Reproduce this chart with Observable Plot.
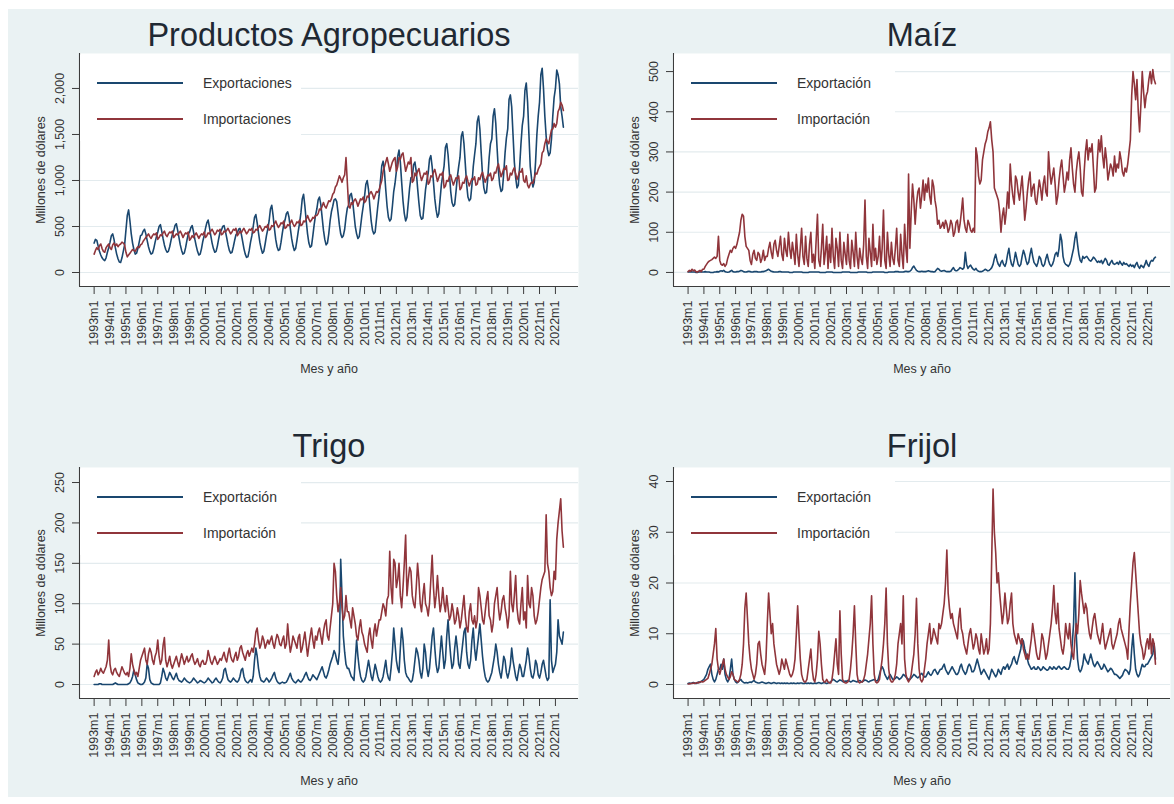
<!DOCTYPE html>
<html><head><meta charset="utf-8">
<script src="https://cdn.jsdelivr.net/npm/d3@7"></script>
<script src="https://cdn.jsdelivr.net/npm/@observablehq/plot@0.6"></script>
<style>
body{margin:0;background:#fff;}
#root{position:relative;width:1174px;height:804px;background:#fff;overflow:hidden;font-family:"Liberation Sans",Arial,sans-serif;}
#bg{position:absolute;left:8px;top:9px;width:1166px;height:788px;background:#eaf2f3;}
.panel{position:absolute;}
.legbox{position:absolute;background:#fff;}
.legline{position:absolute;height:1.6px;}
.legtext{position:absolute;font-size:14px;color:#333;line-height:16px;}
</style></head>
<body><div id="root"><div id="bg"></div></div>
<script>
// ---------------- data (millones de dólares), mensual 1993m1 - 2022m7 ----------------
const tickYears = [1993,1994,1995,1996,1997,1998,1999,2000,2001,2002,2003,2004,2005,2006,2007,2008,2009,2010,2011,2012,2013,2014,2015,2016,2017,2018,2019,2020,2021,2022];

const agroExp = [
320,360,350,290,230,190,160,140,130,160,220,270,
330,400,420,360,270,200,150,115,110,160,230,300,
460,620,680,560,420,320,250,200,210,260,330,400,
410,450,470,420,350,280,230,200,210,260,330,390,
440,500,520,450,370,300,250,220,230,280,350,410,
450,510,530,460,380,300,240,200,210,270,350,420,
440,490,510,440,360,290,230,190,200,260,340,400,
480,540,570,490,400,320,260,220,230,290,370,440,
460,500,510,450,380,300,240,210,220,280,350,410,
430,470,480,420,340,260,200,165,170,240,330,400,
500,600,630,540,430,330,260,210,230,310,400,470,
560,690,730,620,480,360,280,240,250,330,430,520,
570,640,660,600,480,370,290,240,260,350,450,540,
650,800,850,720,560,420,320,275,290,400,520,620,
690,790,820,740,600,460,360,300,320,420,560,660,
720,790,800,770,650,520,420,380,400,470,600,700,
730,840,860,780,640,500,420,370,390,500,620,720,
830,960,1000,900,720,560,460,420,440,580,720,840,
1000,1160,1210,1100,900,720,600,560,580,720,880,970,
1100,1260,1330,1200,980,780,640,560,600,760,920,1030,
1040,1170,1200,1100,920,760,620,580,590,740,900,1000,
1080,1230,1270,1150,980,800,680,600,640,800,960,1060,
1160,1360,1400,1280,1080,880,760,720,740,880,1040,1150,
1250,1480,1530,1400,1180,960,820,780,800,950,1150,1280,
1400,1640,1700,1560,1300,1060,920,860,870,1030,1250,1400,
1450,1700,1780,1620,1350,1100,950,880,900,1080,1300,1460,
1560,1880,1930,1800,1500,1200,1030,920,950,1150,1400,1600,
1700,1980,2060,1850,1500,1150,1020,930,980,1200,1500,1700,
1850,2150,2220,2000,1700,1480,1340,1270,1300,1450,1700,1900,
2000,2200,2150,2050,1800,1700,1580];

const agroImp = [
200,240,270,250,290,310,260,230,220,270,290,310,
270,250,300,320,290,310,280,300,310,330,320,300,
220,170,190,210,230,250,240,230,260,280,270,300,
310,340,360,380,400,420,390,370,400,420,410,430,
360,380,410,400,430,450,410,390,420,440,430,450,
380,400,420,410,430,450,420,380,410,430,420,440,
350,370,400,380,410,430,400,370,400,420,410,440,
380,400,430,420,450,470,440,410,430,460,450,470,
410,420,450,440,460,480,450,420,440,470,460,480,
400,420,450,430,460,480,450,420,440,470,460,480,
430,440,470,460,490,510,480,450,470,500,490,520,
460,470,510,500,530,560,520,490,510,540,530,560,
480,490,520,510,540,570,530,500,520,550,540,570,
510,520,560,550,580,620,580,550,570,600,590,620,
620,640,690,680,720,760,720,700,740,780,770,800,
850,870,930,950,1000,1050,1020,980,1030,1060,1250,980,
720,700,760,740,780,800,770,720,760,800,790,820,
760,780,830,820,860,880,850,800,840,880,870,900,
950,1000,1100,1150,1200,1250,1180,1100,1150,1200,1230,1250,
1100,1150,1250,1230,1280,1300,1200,1100,1150,1200,1180,1250,
980,1000,1080,1050,1100,1130,1060,1000,1040,1080,1070,1100,
960,980,1050,1040,1090,1120,1060,990,1030,1070,1060,1090,
920,940,1000,990,1040,1060,1000,950,990,1030,1020,1050,
900,920,980,970,1020,1050,990,940,980,1020,1010,1040,
950,960,1030,1010,1060,1090,1030,980,1020,1060,1050,1080,
1000,1020,1090,1080,1140,1180,1100,1040,1080,1130,1120,1160,
1000,1010,1080,1060,1110,1140,1070,1010,1050,1100,1090,1130,
1000,980,1050,950,920,960,980,970,1020,1080,1070,1120,
1150,1180,1300,1320,1400,1450,1420,1400,1480,1550,1560,1620,
1580,1620,1750,1780,1850,1820,1760];

const maizExp = [
1,1,2,1,1,1,0,0,1,1,1,1,
1,2,1,1,1,0,0,0,1,1,2,1,
3,4,3,5,2,1,0.5,1,3,5,2,1,
1,2,2,3,5,4,2,1,1,2,3,2,
1,1,2,2,2,1,1,1,2,2,3,4,
6,8,5,3,2,1,1,1,1,2,2,1,
1,1,1,1,1,0,0,0,1,1,1,1,
1,1,1,0,0,0,0,0,1,1,1,1,
1,1,1,1,0,0,0,0,0,1,1,1,
1,1,0,0,0,0,0,0,0,1,1,1,
1,1,1,0,0,0,0,0,0,1,1,1,
1,1,1,1,0,0,0,0,1,1,1,1,
1,1,1,1,1,0,0,0,1,1,1,1,
1,2,2,2,1,1,1,1,2,3,2,2,
3,6,12,16,10,5,3,2,2,3,2,2,
2,3,4,3,2,2,1,2,6,10,8,4,
3,4,5,3,2,2,2,3,8,12,6,4,
5,8,12,10,8,12,50,20,10,15,18,12,
8,6,10,5,3,2,2,3,5,8,6,4,
5,8,12,20,35,45,30,20,15,25,30,20,
15,25,45,60,35,20,15,30,50,35,20,15,
20,40,55,45,30,20,25,45,60,40,25,20,
15,25,40,35,20,15,20,35,45,30,20,15,
20,30,45,50,40,60,95,80,40,25,20,18,
15,20,30,45,60,85,100,70,45,30,25,40,
35,38,40,35,30,28,32,38,35,30,25,28,
25,30,22,28,35,30,20,18,25,30,22,20,
22,25,20,28,22,18,25,20,22,18,15,20,
15,18,12,20,25,15,10,18,15,12,20,30,
20,15,25,30,28,35,38];

const maizImp = [
2,5,3,8,4,6,2,1,3,5,2,8,
8,15,20,25,28,30,32,35,38,35,40,90,
30,20,18,22,15,20,35,45,55,50,60,65,
60,70,85,100,130,145,140,90,65,60,55,30,
20,45,55,35,30,50,45,25,35,55,30,40,
40,60,75,50,35,70,80,55,40,65,90,45,
30,85,55,40,100,60,35,75,50,20,95,45,
15,60,110,40,20,90,35,15,70,100,25,45,
10,80,145,30,15,60,120,20,50,90,10,70,
25,110,40,10,85,60,15,100,30,10,75,45,
20,95,30,10,80,50,15,100,40,10,60,35,
20,70,180,40,10,85,50,15,120,30,60,20,
40,90,15,60,155,30,10,100,45,15,75,35,
20,60,110,30,15,95,45,10,120,60,25,245,
60,150,220,180,120,170,200,210,160,190,230,180,
220,200,235,190,170,230,215,180,160,120,130,110,
115,125,110,130,120,100,110,130,120,90,100,125,
130,100,120,150,185,130,110,100,130,120,105,100,
110,100,310,290,240,220,230,280,300,320,330,350,
360,375,330,300,210,200,190,180,150,100,140,160,
120,150,200,160,270,220,190,170,240,230,200,180,
210,240,190,130,160,200,230,250,190,210,220,180,
170,200,230,210,180,220,240,200,190,300,250,220,
240,260,220,170,190,230,260,280,240,200,220,250,
230,280,310,260,220,200,250,280,300,260,200,190,
250,300,330,280,310,300,320,260,200,210,280,330,
300,340,290,260,310,280,230,250,270,260,240,290,
250,270,260,300,280,250,240,260,250,270,300,330,
440,500,470,430,480,400,350,420,500,450,410,440,
450,480,500,470,505,480,470];

const trigoExp = [
0,0,0,0,1,1,0,0,0,0,0,0,
0,0,0,1,2,1,0,0,0,0,0,0,
0,0,1,2,5,10,18,12,6,2,1,0,
0,1,3,8,25,20,6,2,1,0,0,0,
0,0,2,10,20,15,8,5,10,15,12,8,
6,10,14,8,5,4,3,5,8,6,4,3,
2,3,5,8,6,4,2,3,5,4,3,2,
3,5,8,6,4,2,3,6,8,5,3,2,
4,8,18,20,12,6,4,3,5,8,6,4,
3,5,10,18,20,10,5,3,2,4,6,3,
10,30,45,35,20,10,5,4,3,5,8,6,
3,5,8,12,15,8,4,2,1,2,3,2,
2,3,6,10,14,8,5,3,2,4,6,4,
3,5,8,12,15,10,6,5,8,12,10,8,
6,10,14,18,22,16,10,8,12,18,25,30,
35,42,38,30,25,40,155,110,60,40,25,20,
20,15,10,8,5,30,55,35,20,10,5,3,
5,10,20,30,20,10,5,15,25,18,10,5,
3,5,10,20,30,15,8,5,20,40,70,50,
30,20,15,45,70,55,30,15,10,8,5,3,
5,15,30,45,40,30,15,8,20,50,40,20,
10,20,40,60,70,45,25,15,20,40,60,40,
20,30,60,80,55,35,20,25,45,60,45,25,
20,35,50,65,70,40,25,20,30,55,70,45,
30,45,60,75,55,35,20,10,5,3,5,10,
15,25,35,50,40,25,15,8,20,35,30,15,
8,15,25,45,30,20,10,5,15,25,20,10,
10,20,30,45,35,20,10,8,15,30,25,12,
8,15,25,30,20,10,5,8,105,30,15,20,
25,40,80,60,55,50,65];

const trigoImp = [
10,15,18,12,15,20,16,14,18,22,30,55,
25,15,12,18,20,15,12,10,16,22,18,14,
12,15,10,20,38,25,18,12,15,10,20,30,
35,40,45,30,25,38,45,40,30,25,35,40,
55,35,25,30,48,58,30,22,28,35,25,20,
25,30,35,28,22,30,38,32,25,30,35,28,
30,35,38,30,25,28,32,25,22,28,30,25,
25,30,42,35,28,25,30,35,30,25,28,32,
30,35,40,32,28,38,45,35,30,28,35,40,
30,35,45,48,40,35,30,38,42,35,40,45,
40,50,65,70,55,45,50,60,55,45,50,55,
50,55,60,50,45,55,62,58,50,48,55,60,
45,50,75,55,40,48,60,55,50,45,58,62,
40,45,55,65,50,35,48,60,70,55,45,60,
55,65,70,60,50,65,75,80,60,55,70,85,
100,150,140,110,90,100,120,95,80,85,110,90,
90,80,70,95,85,75,60,55,70,80,65,60,
50,45,40,60,70,55,45,65,75,60,70,80,
80,90,100,95,85,105,110,165,120,100,155,150,
120,130,150,110,95,120,150,185,110,130,145,140,
110,100,95,120,150,130,100,90,110,125,100,95,
85,100,130,160,120,95,110,135,110,90,100,120,
100,90,110,95,80,85,100,90,75,80,95,85,
70,80,95,110,85,70,65,90,100,80,75,85,
70,80,120,110,95,80,75,90,105,115,85,80,
65,75,100,110,120,95,80,90,105,110,95,85,
70,85,140,100,90,110,135,95,80,75,100,120,
80,90,70,135,100,95,120,110,85,75,80,90,
105,120,130,135,140,210,150,140,120,110,115,140,
130,180,200,215,230,190,170];

const frijolExp = [
0.2,0.3,0.2,0.3,0.4,0.3,0.2,0.3,0.5,0.4,0.6,0.8,
1,1.5,2,3,3.5,4,2,1,0.5,1,2,3,
3,4,3,5,2,1,0.5,1,3,5,2,1,
0.5,0.3,0.5,0.8,1,0.6,0.4,0.3,0.4,0.3,0.4,0.5,
0.4,0.6,0.8,0.5,0.4,0.3,0.3,0.4,0.5,0.4,0.3,0.2,
0.3,0.4,0.3,0.2,0.3,0.4,0.3,0.2,0.3,0.3,0.2,0.3,
0.2,0.3,0.2,0.3,0.2,0.2,0.3,0.2,0.3,0.2,0.2,0.3,
0.2,0.3,0.3,0.2,0.2,0.3,0.2,0.3,0.2,0.3,0.2,0.2,
0.3,0.2,0.3,0.4,0.3,0.2,0.3,0.4,0.3,0.2,0.3,0.4,
0.5,0.8,1,0.8,0.6,0.5,0.7,0.9,0.8,0.6,0.5,0.7,
0.6,0.8,0.7,0.5,0.6,0.8,0.7,0.6,0.5,0.7,0.8,0.6,
0.5,0.7,0.9,0.8,0.6,0.5,0.7,0.8,0.9,1,0.8,0.7,
1,2,3,3.5,3,2,1.5,1,1.5,2,1.5,1,
1,1.2,1.5,1.3,1,1.2,1.5,2,1.8,1.5,1.2,1,
1,1.3,1.6,2,1.8,1.5,1.3,1.5,2,2.2,1.8,1.5,
1.5,2,2.5,2,1.8,2.2,2.8,3,2.5,2,2.5,3,
3,3.5,4,3,2.5,2,2.5,3,3.5,3,2.5,2,
2,2.5,3.5,4,3,2.5,2,2.5,3.5,4,3.5,2.5,
2.5,3,4,5,4,3,2,2.5,3,2.5,2,1.5,
1,2,3,2.5,2,1.5,2,3,2.5,2,3,3.5,
3,3.5,4,3,3.5,4,5,5.5,4.5,4,5,6,
7,9,8.5,7,6,5,4,3.5,3,3.2,3.5,3,
3,3.5,3.2,2.8,3,3.5,3.2,3,2.8,3,3.5,3.2,
3,3.5,3.2,3,3.4,3.6,3.2,3,3.3,3.5,3.2,3,
3,3.5,5,8,12,22,10,5,3,2.5,3,4,
6,5,4.5,4,5,6,5,4,3.5,4,4.5,4,
3.5,3,3.2,4,3.5,3,2.5,2.8,3.2,3,2.5,2,
2,1.8,1.5,1.2,1.5,1.8,2.5,3,2.8,2.5,2,3,
7,10,6,3,2,1.5,2,3,4,3.5,3.5,4,
4,4.5,5,5.5,6,8,5];

const frijolImp = [
0.1,0.1,0.2,0.2,0.3,0.2,0.3,0.4,0.3,0.5,0.6,0.5,
0.6,0.8,1,1.2,2,3,4,6,8,11,5,3,
2,3,4,5,3,2,1.5,1,1.5,2.5,2,1,
0.8,0.6,0.5,1,2,4,8,15,18,13,8,5,
3,2,1,2,4,8,8.5,6,4,3,2,5,
12,18,14,10,12,8,6,4,3,2,3,5,
4,3,5,4,3,2,1.5,2,3,5,10,15.5,
10,5,2,1,0.5,0.5,1,3,5,7,3,1,
0.5,2,5,10.5,8,4,1,0.5,0.5,1,0.5,0.3,
0.3,1,3,6,9,4,2,14.5,6,1,0.5,0.3,
0.3,0.5,1,3,6,10,15.5,8,2,0.5,0.3,0.5,
0.5,1,2,4,6,9,12,17.5,8,2,0.5,0.3,
0.5,1,3,5,8,12,19,8,3,1,0.5,0.5,
1,2,4,8,10,12,8,17.5,5,2,1,0.5,
1,2,4,6,10,17,8,3,1,0.5,1,3,
5,8,10,12,8,9,11,10,9,8,12,11,
12,14,16,20,26.5,18,15,13,14,12,11,10,
9,13,15,11,10,8,7,6,8,10,11,9,
7,8,10,9,7,6,10,8,6,7,9,6,
7,12,25,38.5,30,26,20,22,18,15,12,14,
18,15,12,13,16,18,12,10,9,8,10,9,
8,9,7,6,5,6,5,7,9,12,10,8,
6,5,5,7,10,9,7,5,6,8,10,12,
15,19.5,14,12,16,11,9,7,6,8,12,10,
9,12,8,6,5,9,12,10,14,20.5,18,16,
14,16,15,12,10,9,11,13,14,12,10,9,
8,10,12,9,7,8,9,10,11,8,7,8,
9,10,12,13,11,10,9,8,7,5,11,16,
20,24,26,22,18,14,10,8,7,5,6,8,
9,7,10,6,9,8,4];

// ---------------- styling ----------------
const navy = "#1a476f", maroon = "#90353b";
const gridColor = "#e3ebee", axisColor = "#3c3c3c", textColor = "#333333";
const xDomain = [1992.08, 2023.45];
const monthTime = agroExp.map((_, i) => 1993 + i / 12);

const panels = [
  {title: "Productos Agropecuarios", exp: agroExp, imp: agroImp, expLabel: "Exportaciones", impLabel: "Importaciones",
   yTicks: [0,500,1000,1500,2000], yDomain: [-152, 2380], fmt: d3.format(","),
   left: 0, top: 0, width: 590, height: 400, mL: 79, mR: 12, mT: 53, mB: 114, titleDy: -8},
  {title: "Maíz", exp: maizExp, imp: maizImp, expLabel: "Exportación", impLabel: "Importación",
   yTicks: [0,100,200,300,400,500], yDomain: [-35, 545], fmt: d3.format("d"),
   left: 590, top: 0, width: 584, height: 400, mL: 83, mR: 4, mT: 53, mB: 114, titleDy: -8},
  {title: "Trigo", exp: trigoExp, imp: trigoImp, expLabel: "Exportación", impLabel: "Importación",
   yTicks: [0,50,100,150,200,250], yDomain: [-17.3, 268.6], fmt: d3.format("d"),
   left: 0, top: 400, width: 590, height: 404, mL: 79, mR: 12, mT: 67, mB: 106, titleDy: -11},
  {title: "Frijol", exp: frijolExp, imp: frijolImp, expLabel: "Exportación", impLabel: "Importación",
   yTicks: [0,10,20,30,40], yDomain: [-2.76, 42.76], fmt: d3.format("d"),
   left: 590, top: 400, width: 584, height: 404, mL: 83, mR: 4, mT: 67, mB: 106, titleDy: -11}
];

const root = document.getElementById("root");

for (const p of panels) {
  const expRows = p.exp.map((v, i) => ({t: monthTime[i], v}));
  const impRows = p.imp.map((v, i) => ({t: monthTime[i], v}));
  const chart = Plot.plot({
    width: p.width, height: p.height,
    marginLeft: p.mL, marginRight: p.mR, marginTop: p.mT, marginBottom: p.mB,
    style: {background: "transparent", fontFamily: "'Liberation Sans', Arial, sans-serif", color: textColor, fontSize: "12.5px"},
    x: {domain: xDomain},
    y: {domain: p.yDomain},
    marks: [
      Plot.frame({fill: "white", stroke: null}),
      Plot.gridY(p.yTicks, {stroke: gridColor, strokeOpacity: 1, strokeWidth: 1.2}),
      Plot.line(expRows, {x: "t", y: "v", stroke: navy, strokeWidth: 1.6}),
      Plot.line(impRows, {x: "t", y: "v", stroke: maroon, strokeWidth: 1.6}),
      Plot.ruleX([xDomain[0]], {stroke: axisColor, strokeWidth: 1.1}),
      Plot.ruleY([p.yDomain[0]], {stroke: axisColor, strokeWidth: 1.1}),
      Plot.axisY(p.yTicks, {tickSize: 7, tickRotate: -90, tickPadding: 9, tickFormat: p.fmt,
        stroke: axisColor, fill: textColor, fontSize: 12.5,
        label: "Millones de dólares", labelAnchor: "center", labelOffset: 43, labelArrow: "none"}),
      Plot.axisX(tickYears, {tickSize: 8, tickRotate: -90, tickPadding: 6, tickFormat: d => `${d}m1`,
        stroke: axisColor, fill: textColor, fontSize: 12.5,
        label: "Mes y año", labelAnchor: "center", labelOffset: 86, labelArrow: "none"}),
      Plot.text([p.title], {frameAnchor: "top", dy: p.titleDy, lineAnchor: "bottom", fontSize: 32.5, fill: "#1f2933", text: d => d})
    ]
  });
  chart.classList.add("panel");
  chart.style.left = p.left + "px";
  chart.style.top = p.top + "px";
  root.appendChild(chart);

  // legend (inside plot region, upper-left, white box)
  const px = p.left + p.mL, py = p.top + p.mT;
  const box = document.createElement("div");
  box.className = "legbox";
  Object.assign(box.style, {left: (px + 1) + "px", top: (py + 2) + "px", width: "221px", height: "86px"});
  root.appendChild(box);
  [[p.expLabel, navy, 30], [p.impLabel, maroon, 66]].forEach(([lab, col, dy]) => {
    const ln = document.createElement("div");
    ln.className = "legline";
    Object.assign(ln.style, {left: (px + 18) + "px", top: (py + dy - 0.8) + "px", width: "86px", background: col});
    root.appendChild(ln);
    const tx = document.createElement("div");
    tx.className = "legtext";
    tx.textContent = lab;
    Object.assign(tx.style, {left: (px + 124) + "px", top: (py + dy - 8) + "px"});
    root.appendChild(tx);
  });
}
</script>
</body></html>
